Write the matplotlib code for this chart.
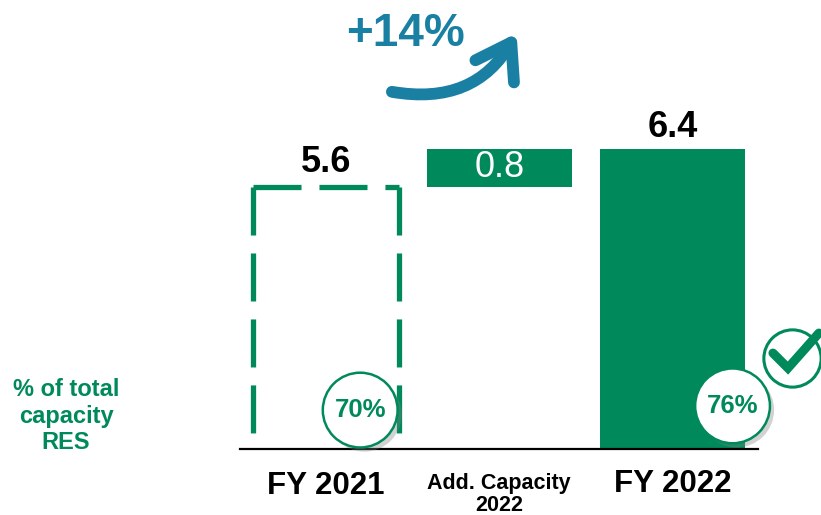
import matplotlib.pyplot as plt
import matplotlib.patheffects as pe
import matplotlib.transforms as mtransforms

# dados
categorias = ['FY 2021', 'Add. Capacity\n2022', 'FY 2022']
fy2021 = 5.6
adicional = 0.8
fy2022 = 6.4
pct_res = ['70%', '76%']
crescimento = '+14%'

verde = '#008A5B'
azul = '#1A80A3'
fonte = 'Liberation Sans'

fig = plt.figure(figsize=(8.21, 5.15), dpi=100)
ax = fig.add_axes([240 / 821, 66 / 515, 518 / 821, 449 / 515])
ax.set_xlim(-0.497, 2.494)
ax.set_ylim(0, 449 / 46.875)

largura = 0.84

# barra FY 2021 tracejada (sem base)
x0, x1 = 0 - largura / 2, 0 + largura / 2
estilo = dict(color=verde, lw=3.8, linestyle=(0, (9.1, 3.4)), dash_capstyle='butt')
ax.plot([x0, x0], [fy2021, 0], **estilo)
ax.plot([x0, x1], [fy2021, fy2021], **estilo)
ax.plot([x1, x1], [fy2021, 0], **estilo)

# capacidade adicional e FY 2022
ax.bar(1, adicional, bottom=fy2021, width=largura, color=verde)
ax.bar(2, fy2022, width=largura, color=verde)

# valores
ax.text(0, fy2021 + 0.3, f'{fy2021}', ha='center', va='baseline', fontsize=26,
        fontweight='bold', family=fonte)
ax.text(2, fy2022 + 0.25, f'{fy2022}', ha='center', va='baseline', fontsize=26,
        fontweight='bold', family=fonte)
ax.text(1, fy2021 + adicional / 2, f'{adicional}', ha='center', va='center', fontsize=26,
        color='white', family=fonte)

# eixo
for s in ['top', 'right', 'left']:
    ax.spines[s].set_visible(False)
ax.spines['bottom'].set_linewidth(1.6)
ax.set_yticks([])
ax.set_xticks([0, 1, 2])
ax.set_xticklabels([])
ax.tick_params(length=0)
ax.text(0, -0.95, categorias[0], ha='center', va='baseline', fontsize=22.5, fontweight='bold', family=fonte)
ax.text(2, -0.92, categorias[2], ha='center', va='baseline', fontsize=22.5, fontweight='bold', family=fonte)
ax.text(1, -1.33, categorias[1], ha='center', va='baseline', fontsize=15.5, fontweight='bold',
        family=fonte, linespacing=1.1)

# circulos com % RES
sombra = [pe.SimplePatchShadow(offset=(3, -3), alpha=0.35, shadow_rgbFace='gray'), pe.Normal()]
ax.scatter([0.197, 2.347], [0.83, 0.92], s=2900, facecolor='white', edgecolor=verde,
           linewidth=1.8, zorder=5, clip_on=False, path_effects=sombra)
ax.text(0.197, 0.83, pct_res[0], ha='center', va='center', fontsize=18.5, fontweight='bold',
        color=verde, family=fonte, zorder=6)
ax.text(2.347, 0.92, pct_res[1], ha='center', va='center', fontsize=18.5, fontweight='bold',
        color=verde, family=fonte, zorder=6)

# check
cx, cy = 2.69, 1.94
ax.scatter([cx], [cy], s=1700, facecolor='white', edgecolor=verde, linewidth=2.2,
           zorder=5, clip_on=False)
trans = fig.dpi_scale_trans + mtransforms.ScaledTranslation(cx, cy, ax.transData)
ax.plot([-0.19, -0.04, 0.27], [0.05, -0.10, 0.25], color=verde, lw=6.5, transform=trans,
        solid_capstyle='round', solid_joinstyle='miter', zorder=6, clip_on=False)

# texto lateral
fig.text(66 / 821, 1 - 416 / 515, '% of total\ncapacity\nRES', ha='center', va='center',
         fontsize=17, fontweight='bold', color=verde, family=fonte, linespacing=1.2)

# seta de crescimento
ax.annotate('', xy=(1.10, 8.87), xytext=(0.38, 7.62),
            arrowprops=dict(arrowstyle='->, head_length=1.2, head_width=0.8', color=azul, lw=8.5,
                            connectionstyle='arc3,rad=0.35', mutation_scale=20,
                            shrinkA=0, shrinkB=0, capstyle='round', joinstyle='round'),
            annotation_clip=False)
ax.text(0.46, 8.85, crescimento, ha='center', va='center', fontsize=33, fontweight='bold',
        color=azul, family=fonte)

plt.savefig('out.png', dpi=100)
